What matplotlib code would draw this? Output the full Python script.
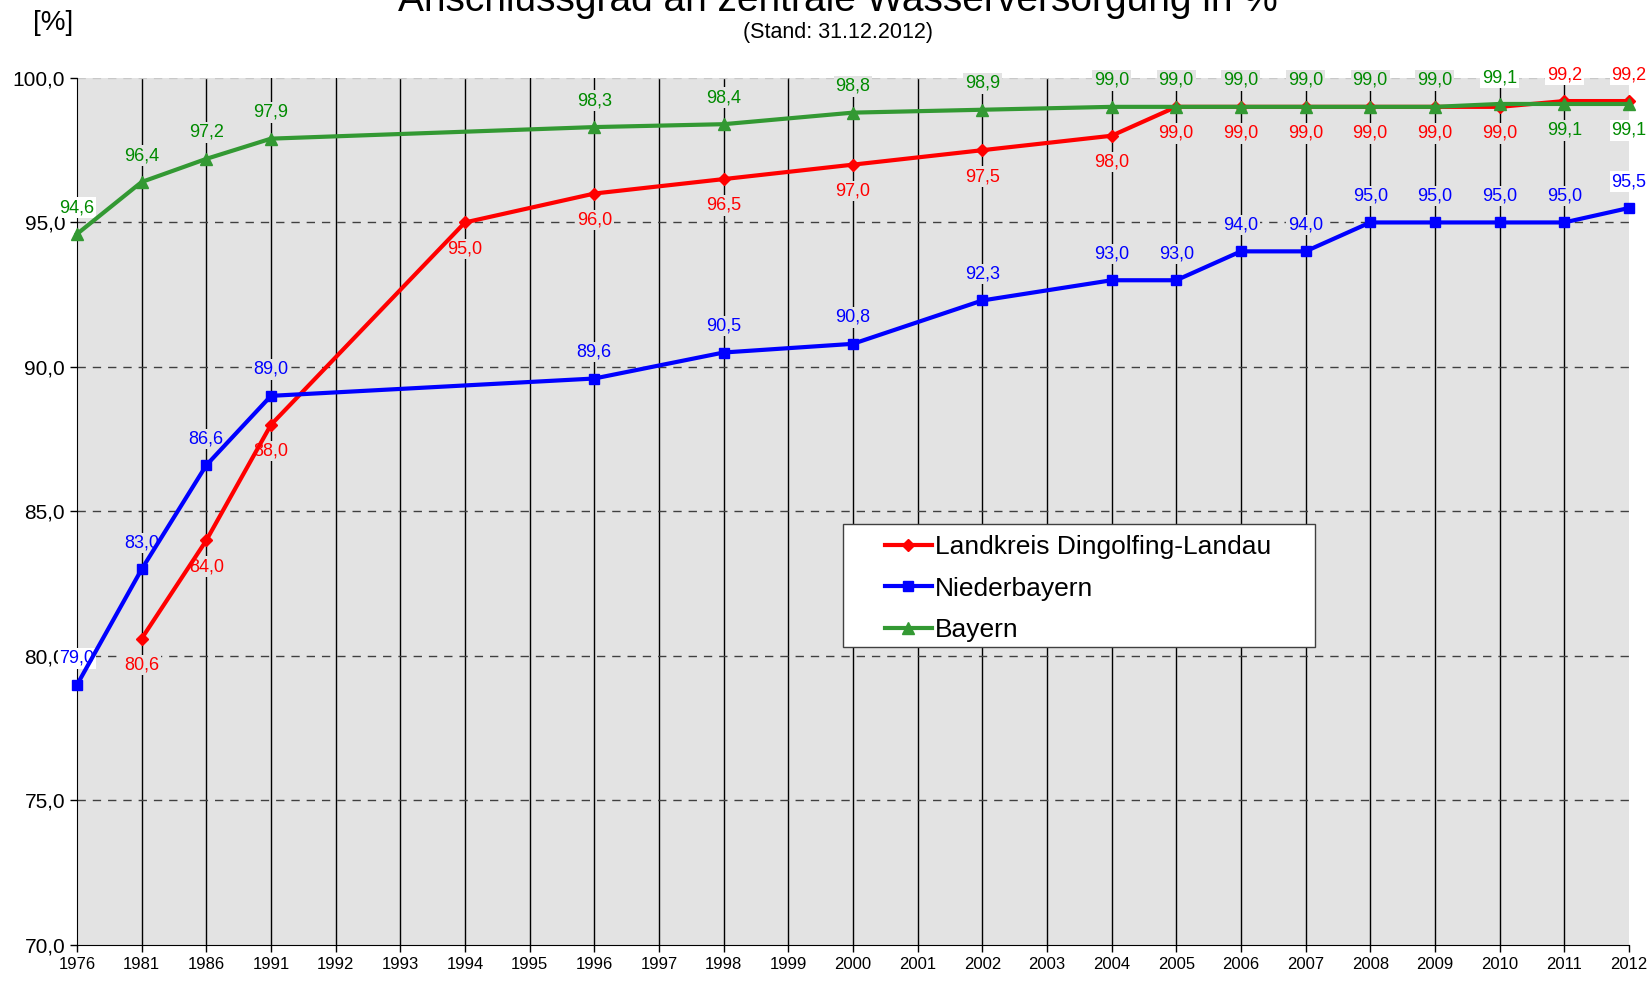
import numpy as np
from matplotlib import pyplot as plt
from matplotlib.patches import Rectangle

plt.rcParams['font.family'] = ['Liberation Sans', 'DejaVu Sans']

# categories on the x axis (not evenly spaced in time, Excel-style category axis)
years = ['1976', '1981', '1986', '1991', '1992', '1993', '1994', '1995', '1996', '1997',
         '1998', '1999', '2000', '2001', '2002', '2003', '2004', '2005', '2006', '2007',
         '2008', '2009', '2010', '2011', '2012']

# None = no value for that year
landkreis = [None, 80.6, 84.0, 88.0, None, None, 95.0, None, 96.0, None,
             96.5, None, 97.0, None, 97.5, None, 98.0, 99.0, 99.0, 99.0,
             99.0, 99.0, 99.0, 99.2, 99.2]
niederbayern = [79.0, 83.0, 86.6, 89.0, None, None, None, None, 89.6, None,
                90.5, None, 90.8, None, 92.3, None, 93.0, 93.0, 94.0, 94.0,
                95.0, 95.0, 95.0, 95.0, 95.5]
bayern = [94.6, 96.4, 97.2, 97.9, None, None, None, None, 98.3, None,
          98.4, None, 98.8, None, 98.9, None, 99.0, 99.0, 99.0, 99.0,
          99.0, 99.0, 99.1, 99.1, 99.1]

yticks = [70, 75, 80, 85, 90, 95, 100]

bgcol = '#e3e3e3'

fig = plt.figure(figsize=(16.52, 9.83), dpi=100)
ax = fig.add_axes([0.0466, 0.0387, 0.9394, 0.882])
ax.set_facecolor(bgcol)

x = np.arange(len(years))

# series: name, values, line colour, text colour, marker, size, label side exceptions, default side, white label boxes
series = [
    ('Landkreis Dingolfing-Landau', landkreis, '#ff0000', '#ff0000', 'D', 6,
     {'2011': 1, '2012': 1}, -1, {'2011', '2012'}),
    ('Niederbayern', niederbayern, '#0000ff', '#0000ff', 's', 7.5,
     {}, 1, {'1976', '2012'}),
    ('Bayern', bayern, '#339933', '#008a00', '^', 8,
     {'2011': -1, '2012': -1}, 1, {'1976', '2010', '2012'}),
]

for name, vals, col, tcol, mk, ms, side_exc, side, white in series:
    idx = [i for i, v in enumerate(vals) if v is not None]
    yy = [vals[i] for i in idx]
    ax.plot(idx, yy, color=col, lw=3, marker=mk, ms=ms, label=name, zorder=5,
            clip_on=False)
    for i, v in zip(idx, yy):
        s = side_exc.get(years[i], side)
        fc = 'white' if years[i] in white else bgcol
        ax.annotate(('%.1f' % v).replace('.', ','), (i, v), xytext=(0, 19 * s),
                    textcoords='offset points', ha='center', va='center',
                    fontsize=13, color=tcol, zorder=4, annotation_clip=False,
                    bbox=dict(boxstyle='square,pad=0.1', fc=fc, ec='none'))

ax.set_xlim(0, len(years) - 1)
ax.set_ylim(70, 100)
ax.set_xticks(x)
ax.set_xticklabels(years, fontsize=12)
ax.set_yticks(yticks)
ax.set_yticklabels([('%.1f' % t).replace('.', ',') for t in yticks], fontsize=15)
ax.tick_params(direction='out', length=5, width=1, color='black')

for xi in x[1:-1]:
    ax.axvline(xi, color='black', lw=1, zorder=1)
for t in yticks[1:-1]:
    ax.axhline(t, color='#404040', lw=1, ls=(0, (6, 5)), zorder=1)
ax.axhline(100, color='#c8c8c8', lw=1, ls=(0, (6, 5)), zorder=1)

for sp in ['top', 'right']:
    ax.spines[sp].set_visible(False)
ax.spines['left'].set_color('black')
ax.spines['bottom'].set_color('black')

# legend box drawn separately (Excel style: wide side padding)
ax.add_patch(Rectangle((0.4936, 0.3437), 0.3041, 0.1419, transform=ax.transAxes,
                       fc='white', ec='#404040', lw=1, zorder=9))
leg = ax.legend(loc='upper left', bbox_to_anchor=(0.5206, 0.4725), fontsize=19,
                frameon=False, handlelength=1.78, labelspacing=0.66, borderpad=0,
                handletextpad=0.12, borderaxespad=0)
leg.set_zorder(10)

fig.text(0.507, 0.989, 'Anschlussgrad an zentrale Wasserversorgung in %',
         ha='center', va='baseline', fontsize=28)
fig.text(0.507, 0.9667, '(Stand: 31.12.2012)', ha='center', va='center', fontsize=15.5)
fig.text(0.032, 0.977, '[%]', ha='center', va='center', fontsize=20)

plt.savefig('out.png', dpi=100)
